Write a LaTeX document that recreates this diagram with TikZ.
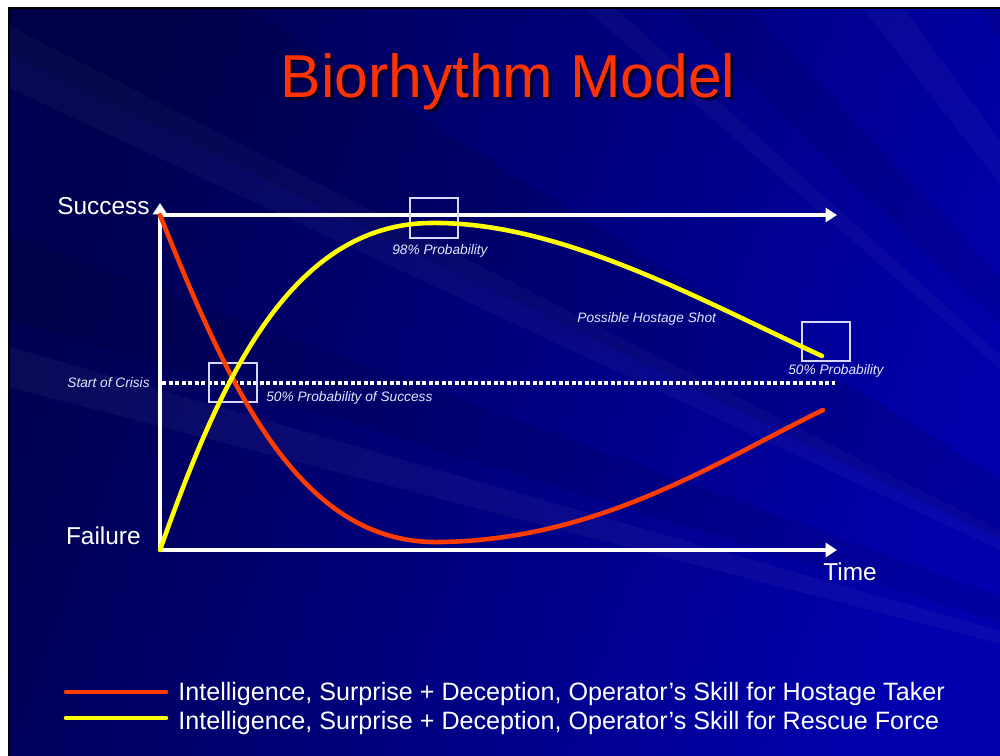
\documentclass[tikz,border=0pt]{standalone}
\usepackage{fontspec}
\setmainfont{Liberation Sans}
\usetikzlibrary{arrows.meta}

\definecolor{slidedark}{RGB}{0,0,80}
\definecolor{slidebright}{RGB}{0,0,172}
\definecolor{titlered}{RGB}{255,51,0}
\definecolor{hostred}{RGB}{255,60,0}
\definecolor{rescueyellow}{RGB}{255,255,0}
\definecolor{boxline}{RGB}{215,215,255}

\tikzset{
	axis/.style={white,line width=2.1pt},
	axisarrow/.style={axis,-{Triangle[width=8pt,length=6.5pt]}},
	curve/.style={line width=2.6pt,line cap=round},
	axislabel/.style={white,font=\fontsize{13.9pt}{16pt}\selectfont,inner sep=0pt},
	legendtext/.style={white,font=\fontsize{14.3pt}{16pt}\selectfont,inner sep=0pt},
	note/.style={white!90!blue,font=\fontsize{7.8pt}{9pt}\selectfont\itshape,inner sep=0pt},
	probbox/.style={draw=boxline,line width=0.8pt}
}

\begin{document}
\begin{tikzpicture}[x=0.02cm,y=-0.02cm]

\newcommand{\pbox}[3]{
	\draw[probbox] (#1,#2) rectangle ++(48,#3);
}

% slide frame and background
\useasboundingbox (0,0) rectangle (1000,756);
\fill[white] (0,0) rectangle (1000,756);
\shade[left color=slidedark,right color=slidebright,shading angle=70] (9,8) rectangle (1000,756);
\begin{scope}
	\clip (9,8) rectangle (1000,756);
	\foreach \a/\b/\c/\o in {196/197.5/white/0.04,200/203/black/0.08,207/209/white/0.03,212/218/black/0.1,222/223/white/0.03,227/230/black/0.08,234/236/white/0.03,240/242/black/0.08,246/247/white/0.03}{
		\fill[\c,opacity=\o] (1450,760) -- ++(\a:2200) -- ++(\b-90:{2200*sin(\b-\a)}) -- cycle;
	}
\end{scope}
\draw[black,line width=1.2pt] (9,756) -- (9,8) -- (1000,8);

% title
\node[anchor=base,text=black!80!blue,font=\fontsize{34.5pt}{40pt}\selectfont,inner sep=0pt] at (511,101) {Biorhythm Model};
\node[anchor=base,text=titlered,font=\fontsize{34.5pt}{40pt}\selectfont,inner sep=0pt] (title) at (508,98) {Biorhythm Model};

% axes
\coordinate (o) at (160,550);
\coordinate (s) at (160,215);
\coordinate (top) at (160,203);
\coordinate (se) at (837,215);
\coordinate (te) at (837,550);
\coordinate (cl) at (162,383);
\coordinate (cr) at (835,383);
\draw[axisarrow] (o) -- (top);
\draw[axisarrow] (s) -- (se);
\draw[axisarrow] (o) -- (te);
\draw[white,line width=2.3pt,dash pattern=on 2.4pt off 1.3pt] (cl) -- (cr);

\node[axislabel,anchor=base east] (success) at (150,215) {Success};
\node[axislabel,anchor=base east] (failure) at (141,544) {Failure};
\node[axislabel,anchor=base west] (time) at (823,580) {Time};

% boxes
\pbox{209}{363}{39}
\pbox{410}{198}{40}
\pbox{802}{322}{39}

% curves
\coordinate (redend) at (823,410);
\coordinate (yelend) at (822,356);
\draw[curve,hostred] (s) .. controls (230,390) and (300,545) .. (440,542)
	.. controls (600,540) and (720,460) .. (redend);
\draw[curve,rescueyellow] (o) .. controls (220,380) and (290,225) .. (430,223)
	.. controls (560,221) and (700,300) .. (yelend);

% notes
\node[note,anchor=base east] (crisis) at (150,388) {Start of Crisis};
\node[note,anchor=base west] (fifty) at (266,402) {50\% Probability of Success};
\node[note,anchor=base west] (ninety) at (392,255) {98\% Probability};
\node[note,anchor=base west] (shot) at (577,323) {Possible Hostage Shot};
\node[note,anchor=base west] (fiftyend) at (788,375) {50\% Probability};

% legend
\coordinate (l1a) at (66,692);
\coordinate (l1b) at (166,692);
\coordinate (l2a) at (66,718);
\coordinate (l2b) at (166,718);
\draw[curve,hostred] (l1a) -- (l1b);
\draw[curve,rescueyellow] (l2a) -- (l2b);
\node[legendtext,anchor=base west] (leg1) at (178,700) {Intelligence, Surprise + Deception, Operator’s Skill for Hostage Taker};
\node[legendtext,anchor=base west] (leg2) at (178,729) {Intelligence, Surprise + Deception, Operator’s Skill for Rescue Force};

\end{tikzpicture}
\end{document}
